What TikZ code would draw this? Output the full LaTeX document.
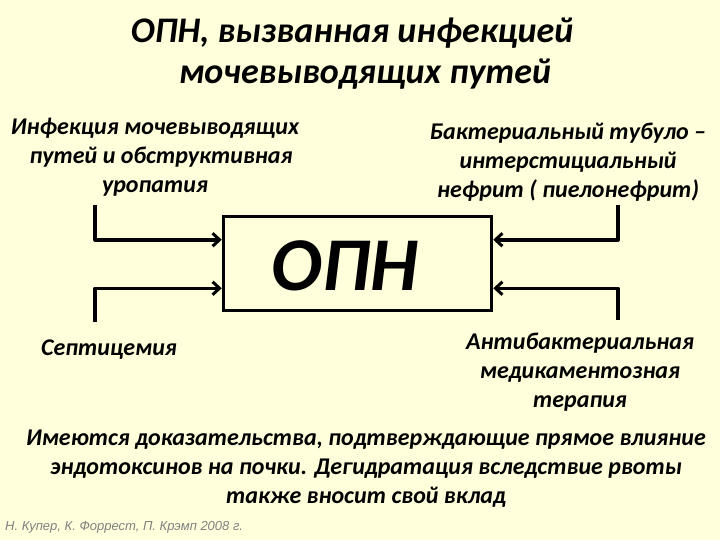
\documentclass[tikz,border=0pt]{standalone}
\usepackage{fontspec}
\setmainfont{Carlito}
\newfontfamily\srcfont{Liberation Sans}
\usetikzlibrary{arrows.meta}
\definecolor{paper}{RGB}{255,255,220}

\begin{document}
\begin{tikzpicture}[x=1pt,y=-1pt,
  feed/.style={-{Straight Barb[length=7pt,width=13pt,line width=3pt]},line width=3.5pt,line join=round},
  caption/.style={align=center,inner sep=0pt,font=\fontsize{24}{29}\selectfont\bfseries\itshape},
  every node/.append style={text=black}]
  \fill[paper] (0,0) rectangle (720,540);
  \useasboundingbox (0,0) rectangle (720,540);

  \node[align=center,inner sep=0pt,font=\fontsize{36}{41}\selectfont\bfseries\itshape] (title) at (352,54)
    {ОПН, вызванная инфекцией\\ \hspace*{26pt}мочевыводящих путей};

  \node[draw,line width=3.5pt,minimum width=268pt,minimum height=94pt] (opn) at (357.5,263.5) {};
  \node[font=\fontsize{76}{76}\selectfont\bfseries\itshape,inner sep=0pt] (opntext) at (345,266) {ОПН};

  \node[caption] (uti) at (155,157) {Инфекция мочевыводящих\\ \hspace*{12pt}путей и обструктивная\\ уропатия};
  \node[caption] (nephr) at (568,162) {Бактериальный тубуло --\\ интерстициальный\\ нефрит ( пиелонефрит)};
  \node[caption] (sepsis) at (109,350) {Септицемия};
  \node[caption] (abx) at (580,372) {Антибактериальная\\ медикаментозная\\ терапия};

  \coordinate (uti-in) at (95,205);
  \coordinate (sepsis-in) at (95,322);
  \coordinate (nephr-in) at (618,205);
  \coordinate (abx-in) at (618,320);
  \draw[feed] (uti-in) |- ([yshift=-25pt]opn.north west);
  \draw[feed] (sepsis-in) |- ([yshift=24pt]opn.south west);
  \draw[feed] (nephr-in) |- ([yshift=-25pt]opn.north east);
  \draw[feed] (abx-in) |- ([yshift=24pt]opn.south east);

  \node[caption] (note) at (366,469)
    {Имеются доказательства, подтверждающие прямое влияние\\ эндотоксинов на почки. Дегидратация вследствие рвоты\\ также вносит свой вклад};
  \node[anchor=west,inner sep=0pt,text=gray,font=\srcfont\itshape\fontsize{13}{15}\selectfont] (source) at (5,527)
    {Н. Купер, К. Форрест, П. Крэмп 2008 г.};
\end{tikzpicture}
\end{document}
